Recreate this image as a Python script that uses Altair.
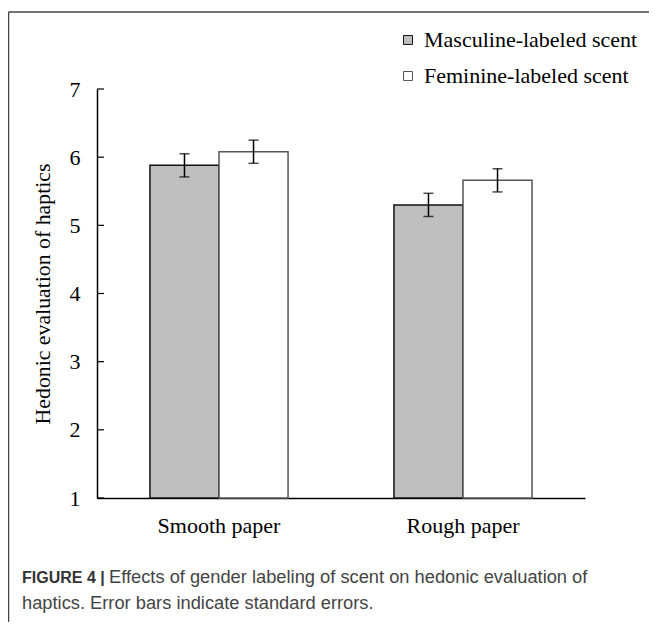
import altair as alt
import pandas as pd

papers = ["Smooth paper", "Rough paper"]
series = ["Masculine-labeled scent", "Feminine-labeled scent"]
means_masc = [5.88, 5.30]
means_fem = [6.08, 5.66]
se_masc = [0.17, 0.17]
se_fem = [0.17, 0.17]
y_ticks = [1, 2, 3, 4, 5, 6, 7]
y_title = "Hedonic evaluation of haptics"
caption_bold = "FIGURE 4 |"
caption_line1 = "Effects of gender labeling of scent on hedonic evaluation of"
caption_line2 = "haptics. Error bars indicate standard errors."

rows = []
for i, p in enumerate(papers):
    rows.append({"paper": p, "series": series[0], "mean": means_masc[i],
                 "lo": means_masc[i] - se_masc[i], "hi": means_masc[i] + se_masc[i]})
    rows.append({"paper": p, "series": series[1], "mean": means_fem[i],
                 "lo": means_fem[i] - se_fem[i], "hi": means_fem[i] + se_fem[i]})
df = pd.DataFrame(rows)
ticks_df = pd.DataFrame({"v": y_ticks})

SERIF = "Liberation Serif"
SANS = "Liberation Sans"

yscale = alt.Scale(domain=[1, 7], nice=False, zero=False)
xenc = alt.X("paper:N", sort=papers,
             scale=alt.Scale(paddingInner=0.434, paddingOuter=0.217),
             axis=alt.Axis(title=None, ticks=False, labelAngle=0, labelFont=SERIF,
                           labelFontSize=22, labelColor="black", labelPadding=17,
                           domainColor="black", domainWidth=1.5, grid=False))
xoff = alt.XOffset("series:N", sort=series, scale=alt.Scale(paddingInner=0, paddingOuter=0))

base = alt.Chart(df)

bars = base.mark_bar(strokeWidth=1.5).encode(
    x=xenc,
    xOffset=xoff,
    y=alt.Y("mean:Q", scale=yscale,
            axis=alt.Axis(values=y_ticks, format="d", title=y_title, ticks=False, grid=False,
                          labelFont=SERIF, labelFontSize=22, labelColor="black",
                          labelPadding=17, domainColor="black", domainWidth=1.5,
                          titleFont=SERIF, titleFontSize=21.8, titleFontWeight="normal",
                          titleColor="black", titlePadding=15)),
    y2=alt.datum(1),
    fill=alt.Fill("series:N", sort=series,
                  scale=alt.Scale(domain=series, range=["#bfbfbf", "#ffffff"]),
                  legend=alt.Legend(title=None, orient="none", legendX=300, legendY=-60,
                                    symbolType="square", symbolSize=80,
                                    symbolStrokeColor="#444", symbolStrokeWidth=1,
                                    labelFont=SERIF, labelFontSize=22, labelColor="black",
                                    labelLimit=400, labelOffset=5, rowPadding=14)),
    stroke=alt.Stroke("series:N", sort=series,
                      scale=alt.Scale(domain=series, range=["#111111", "#555555"]),
                      legend=None),
)

err = base.mark_rule(color="black", strokeWidth=1.5).encode(
    x=alt.X("paper:N", sort=papers), xOffset=xoff,
    y=alt.Y("lo:Q", scale=yscale), y2="hi:Q")
cap_lo = base.mark_tick(color="black", thickness=1.5, size=10, orient="horizontal").encode(
    x=alt.X("paper:N", sort=papers), xOffset=xoff, y=alt.Y("lo:Q", scale=yscale))
cap_hi = base.mark_tick(color="black", thickness=1.5, size=10, orient="horizontal").encode(
    x=alt.X("paper:N", sort=papers), xOffset=xoff, y=alt.Y("hi:Q", scale=yscale))

yticks = alt.Chart(ticks_df).mark_rule(color="black", strokeWidth=1.2).encode(
    x=alt.value(0), x2=alt.value(7), y=alt.Y("v:Q", scale=yscale))

frame_top = alt.Chart(ticks_df.head(1)).mark_rule(color="#444", strokeWidth=1.5).encode(
    x=alt.value(-88.5), x2=alt.value(600), y=alt.value(-77))
frame_left = alt.Chart(ticks_df.head(1)).mark_rule(color="#444", strokeWidth=1.5).encode(
    x=alt.value(-88.5), y=alt.value(-77), y2=alt.value(540))

cap_b = alt.Chart(ticks_df.head(1)).mark_text(
    text=caption_bold, font=SANS, fontSize=16, fontWeight="bold", color="#333",
    align="left", baseline="middle").encode(x=alt.value(-75), y=alt.value(489))
cap_1 = alt.Chart(ticks_df.head(1)).mark_text(
    text=caption_line1, font=SANS, fontSize=18.3, color="#444",
    align="left", baseline="middle").encode(x=alt.value(12), y=alt.value(489))
cap_2 = alt.Chart(ticks_df.head(1)).mark_text(
    text=caption_line2, font=SANS, fontSize=18.3, color="#444",
    align="left", baseline="middle").encode(x=alt.value(-75), y=alt.value(515))

chart = alt.layer(bars, err, cap_lo, cap_hi, yticks, frame_top, frame_left,
                  cap_b, cap_1, cap_2).properties(
    width=488, height=409,
    autosize=alt.AutoSizeParams(type="none"),
    padding={"left": 89, "top": 81, "right": 64, "bottom": 124},
    background="white",
).configure_view(stroke=None)

chart.save("out.html", embed_options={"renderer": "svg", "actions": False})
